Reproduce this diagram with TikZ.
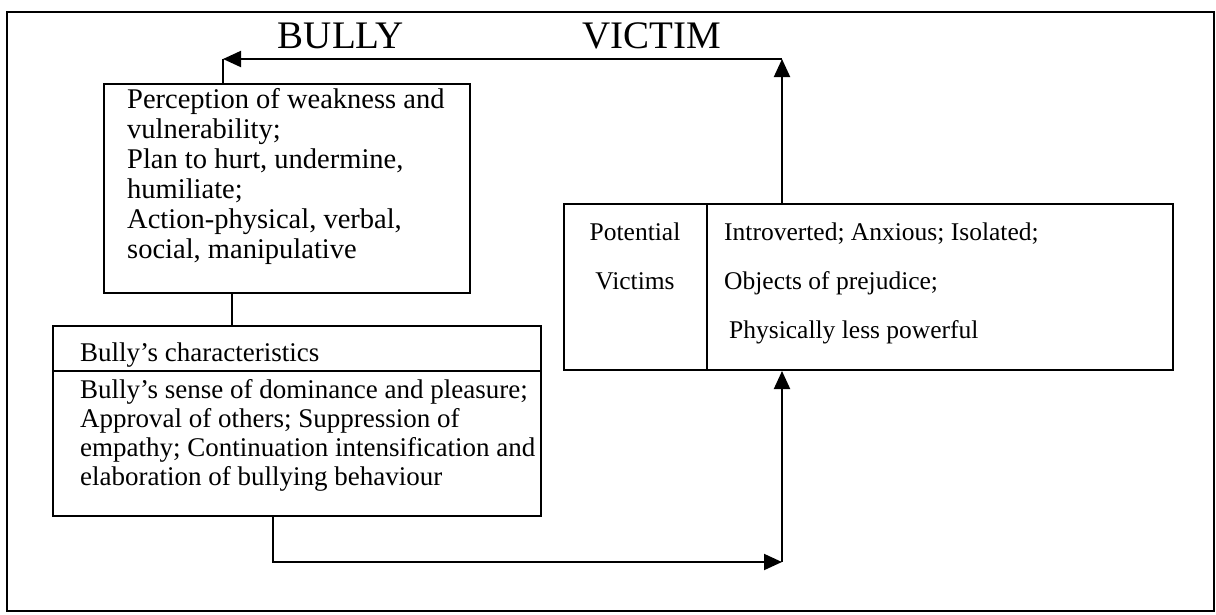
\documentclass[tikz,border=0pt]{standalone}
\usepackage{fontspec}
\setmainfont{Liberation Serif}
\usetikzlibrary{arrows.meta}
\begin{document}
\begin{tikzpicture}[x=1pt,y=-1pt,
  box/.style={draw, line width=2pt, inner sep=0pt, anchor=north west},
  txt/.style={inner sep=0pt, anchor=base west, font=\fontsize{27}{30}\selectfont},
  bigtxt/.style={txt, font=\fontsize{28.5}{30}\selectfont},
  smalltxt/.style={txt, font=\fontsize{25.5}{30}\selectfont},
  ctxt/.style={inner sep=0pt, anchor=base, font=\fontsize{25.5}{30}\selectfont},
  title/.style={inner sep=0pt, anchor=base, font=\fontsize{39}{44}\selectfont},
  wire/.style={line width=2pt},
  arr/.style={wire, -{Triangle[length=18pt,width=16pt]}},
]
\useasboundingbox (0,0) rectangle (1216,614);
% outer frame
\draw[wire] (7,12) rectangle (1214,611);

% headings
\node[title] (tbully) at (341,48) {BULLY};
\node[title] (tvictim) at (652,48) {VICTIM};

% bully's actions
\node[box, minimum width=366pt, minimum height=209pt] (b1) at (103,83) {};
\node[bigtxt] (a1) at (127,108) {Perception of weakness and};
\node[bigtxt] (a2) at (127,138) {vulnerability;};
\node[bigtxt] (a3) at (127,168) {Plan to hurt, undermine,};
\node[bigtxt] (a4) at (127,198) {humiliate;};
\node[bigtxt] (a5) at (127,228) {Action-physical, verbal,};
\node[bigtxt] (a6) at (127,258) {social, manipulative};

% bully's characteristics
\node[box, minimum width=488pt, minimum height=190pt] (b3) at (52,325) {};
\draw[wire] (b3.west |- 0,371) -- (b3.east |- 0,371);
\node[txt] (c0) at (80,361) {Bully’s characteristics};
\node[txt] (c1) at (80,398) {Bully’s sense of dominance and pleasure;};
\node[txt] (c2) at (80,427) {Approval of others; Suppression of};
\node[txt] (c3) at (80,456) {empathy; Continuation intensification and};
\node[txt] (c4) at (80,485) {elaboration of bullying behaviour};

% potential victims
\node[box, minimum width=609pt, minimum height=166pt] (b2) at (563,203) {};
\draw[wire] (b2.north -| 707,0) -- (b2.south -| 707,0);
\node[ctxt] (v1) at (635,240) {Potential};
\node[ctxt] (v2) at (635,289) {Victims};
\node[smalltxt] (p1) at (724,240) {Introverted; Anxious; Isolated;};
\node[smalltxt] (p2) at (724,289) {Objects of prejudice;};
\node[smalltxt] (p3) at (729,338) {Physically less powerful};

% connectors
\coordinate (tl) at (223,59);
\coordinate (tr) at (782,59);
\coordinate (bl) at (273,562);
\coordinate (br) at (782,562);
\draw[arr] (b2.north -| tr) -- (tr);
\draw[arr] (tr) -- (tl);
\draw[wire] (b1.north -| tl) -- (tl);
\draw[wire] (b1.south -| 232,0) -- (b3.north -| 232,0);
\draw[arr] (b3.south -| bl) -- (bl) -- (br);
\draw[arr] (br) -- (b2.south -| br);
\end{tikzpicture}
\end{document}
